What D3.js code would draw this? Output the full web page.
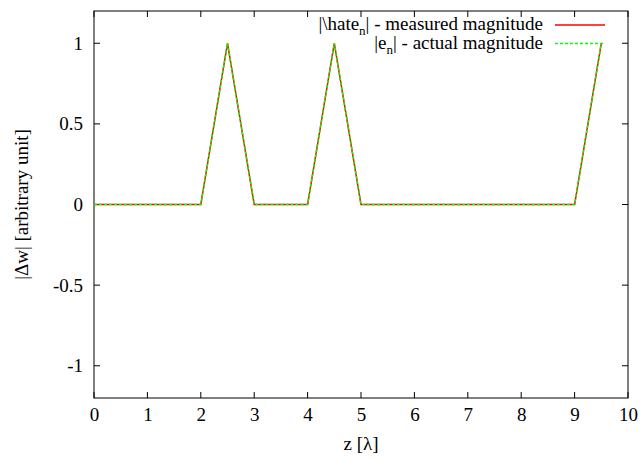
<!DOCTYPE html>
<html><head><meta charset="utf-8">
<script src="https://cdn.jsdelivr.net/npm/d3@7"></script>
</head><body style="margin:0"><svg id="c" width="641" height="460" style="display:block"></svg>
<script>
const zValues = [0,0.5,1,1.5,2,2.5,3,3.5,4,4.5,5,5.5,6,6.5,7,7.5,8,8.5,9,9.5];
const measured = [0,0,0,0,0,1,0,0,0,1,0,0,0,0,0,0,0,0,0,1];
const actual   = [0,0,0,0,0,1,0,0,0,1,0,0,0,0,0,0,0,0,0,1];
const xTicks = [0,1,2,3,4,5,6,7,8,9,10];
const yTicks = [-1,-0.5,0,0.5,1];

const FF = '"Liberation Serif"';
const svg = d3.select("#c");
const L=94, R=628, T=11, B=398;
const x = d3.scaleLinear().domain([0,10]).range([L,R]);
const y = d3.scaleLinear().domain([-1.2,1.2]).range([B,T]);
const fs = 19;

const g = svg.append("g").attr("stroke","#000").attr("stroke-width",1);
xTicks.forEach(t=>{
  g.append("line").attr("x1",x(t)).attr("x2",x(t)).attr("y1",B).attr("y2",B-6);
  g.append("line").attr("x1",x(t)).attr("x2",x(t)).attr("y1",T).attr("y2",T+6);
});
yTicks.forEach(t=>{
  g.append("line").attr("x1",L).attr("x2",L+6).attr("y1",y(t)).attr("y2",y(t));
  g.append("line").attr("x1",R).attr("x2",R-6).attr("y1",y(t)).attr("y2",y(t));
});
const xa = svg.append("g").attr("transform",`translate(0,${B})`)
  .call(d3.axisBottom(x).tickValues(xTicks).tickSize(0).tickPadding(10).tickFormat(d3.format("d")));
xa.select(".domain").remove();
xa.attr("font-family",null).attr("font-size",null);
xa.selectAll("text").style("font-family",FF).attr("font-size",fs).attr("fill","#000");
const ya = svg.append("g").attr("transform",`translate(${L},0)`)
  .call(d3.axisLeft(y).tickValues(yTicks).tickSize(0).tickPadding(11).tickFormat(d=>String(d)));
ya.select(".domain").remove();
ya.attr("font-family",null).attr("font-size",null);
ya.selectAll("text").style("font-family",FF).attr("font-size",fs).attr("fill","#000");

svg.append("rect").attr("x",L).attr("y",T).attr("width",R-L).attr("height",B-T)
  .attr("fill","none").attr("stroke","#000").attr("stroke-width",1);

const line = d3.line().x((d,i)=>x(zValues[i])).y(d=>y(d));
svg.append("path").datum(measured).attr("d",line).attr("fill","none")
  .attr("stroke","#ff0000").attr("stroke-width",1.5);
svg.append("path").datum(actual).attr("d",line).attr("fill","none")
  .attr("stroke","#00ff00").attr("stroke-width",1.5).attr("stroke-dasharray","3,2");

const t1 = svg.append("text").style("font-family",FF).attr("font-size",fs).attr("x",543).attr("y",30).attr("text-anchor","end");
t1.append("tspan").text("|\\hate");
t1.append("tspan").attr("font-size",13).attr("dy",5).text("n");
t1.append("tspan").attr("dy",-5).text("| - measured magnitude");
const t2 = svg.append("text").style("font-family",FF).attr("font-size",fs).attr("x",543).attr("y",49).attr("text-anchor","end");
t2.append("tspan").text("|e");
t2.append("tspan").attr("font-size",13).attr("dy",5).text("n");
t2.append("tspan").attr("dy",-5).text("| - actual magnitude");
svg.append("line").attr("x1",555).attr("x2",605).attr("y1",25).attr("y2",25).attr("stroke","#ff0000").attr("stroke-width",1.5);
svg.append("line").attr("x1",555).attr("x2",605).attr("y1",43.5).attr("y2",43.5).attr("stroke","#00ff00").attr("stroke-width",1.5).attr("stroke-dasharray","3,2");

svg.append("text").attr("x",361).attr("y",450).attr("text-anchor","middle")
  .style("font-family",FF).attr("font-size",fs).text("z [λ]");
svg.append("text").attr("transform",`translate(28,${y(0)}) rotate(-90)`).attr("text-anchor","middle")
  .style("font-family",FF).attr("font-size",fs).text("|Δw| [arbitrary unit]");
</script></body></html>
